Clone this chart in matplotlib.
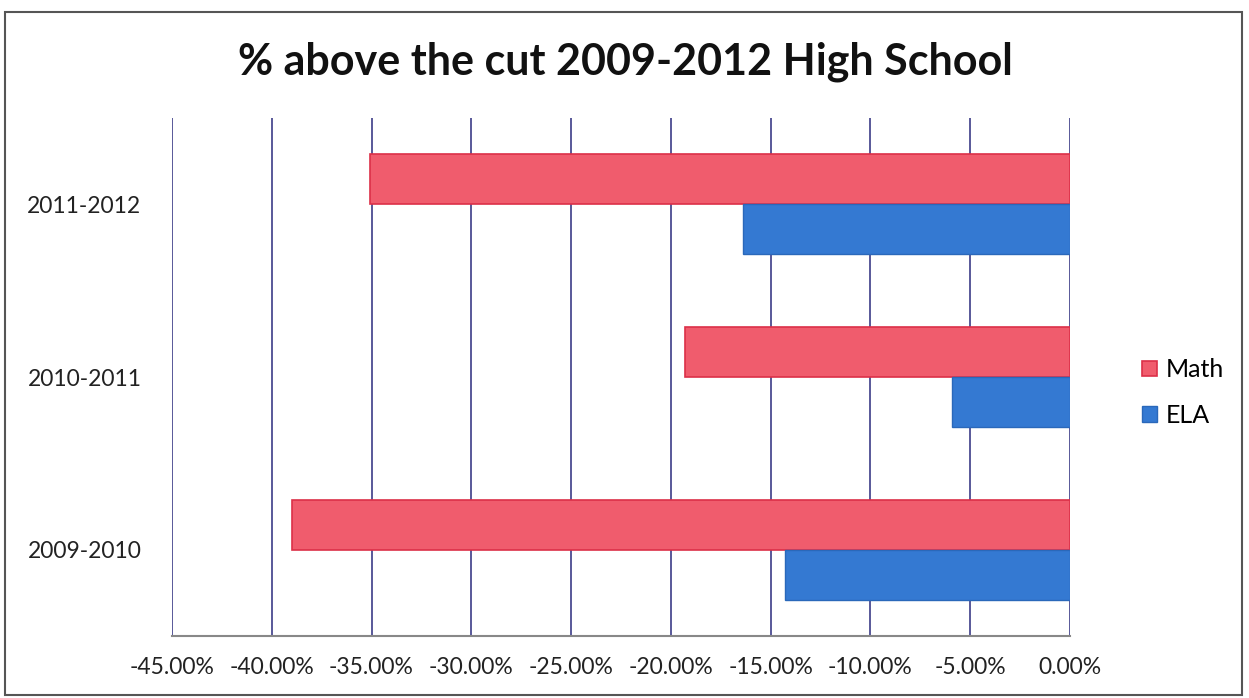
import numpy as np
import matplotlib.pyplot as plt
from matplotlib.ticker import FuncFormatter

# school years, bottom to top
years = ["2009-2010", "2010-2011", "2011-2012"]
# % above the cut (negative values)
math_vals = [-39.0, -19.3, -35.1]
ela_vals = [-14.3, -5.9, -16.4]
x_ticks = [-45, -40, -35, -30, -25, -20, -15, -10, -5, 0]

plt.rcParams['font.family'] = ['Lato', 'DejaVu Sans']

fig = plt.figure(figsize=(12.49, 6.98), dpi=100)
ax = fig.add_axes([0.1377, 0.0888, 0.719, 0.742])

y = np.arange(len(years))
h = 0.29
ax.barh(y + h / 2, math_vals, height=h, color='#f05c6d', edgecolor='#dc3048',
        linewidth=1.2, label='Math', zorder=3)
ax.barh(y - h / 2, ela_vals, height=h, color='#3479d2', edgecolor='#2a68ba',
        linewidth=1.0, label='ELA', zorder=3)

ax.set_xlim(-45, 0)
ax.set_ylim(-0.5, 2.5)
ax.set_xticks(x_ticks)
ax.xaxis.set_major_formatter(FuncFormatter(lambda v, p: f"{v:.2f}%"))
ax.set_yticks(y)
ax.set_yticklabels(years)
ax.tick_params(axis='both', length=0, labelsize=16.5, colors='#222222')
ax.tick_params(axis='x', pad=15)
ax.tick_params(axis='y', pad=22)
ax.grid(axis='x', color='#3c3c88', linewidth=1.2, zorder=0)

for s in ['top', 'right', 'left']:
    ax.spines[s].set_visible(False)
ax.spines['bottom'].set_color('#888888')
ax.spines['bottom'].set_linewidth(1.5)

fig.suptitle("% above the cut 2009-2012 High School", x=0.501, y=0.911, va='center',
             fontsize=31, fontweight='bold', color='#111111')

ax.legend(loc='center left', bbox_to_anchor=(1.055, 0.47), frameon=False,
          fontsize=18, handlelength=0.6, handleheight=0.6, labelspacing=0.9,
          handletextpad=0.35)

# outer frame of the chart area
fig.patches.append(plt.Rectangle((0.004, 0.005), 0.99, 0.978, transform=fig.transFigure,
                                 fill=False, edgecolor='#555555', linewidth=1.5))

fig.savefig("out.png", dpi=100)
